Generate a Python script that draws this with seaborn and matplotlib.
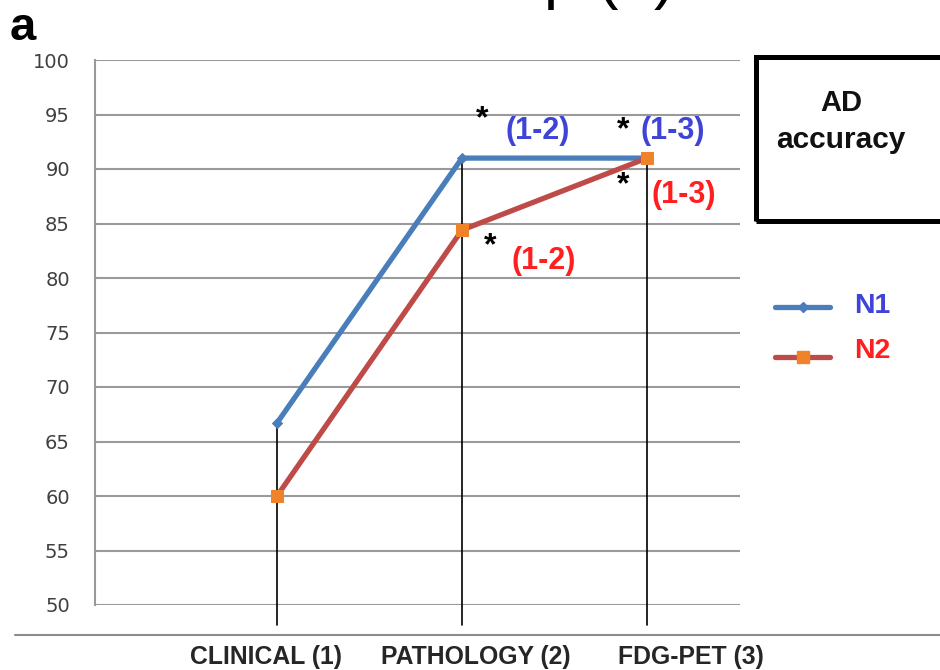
import matplotlib
matplotlib.use("Agg")
import matplotlib.pyplot as plt
import seaborn as sns
import pandas as pd
from matplotlib.lines import Line2D
from matplotlib.patches import Rectangle

categories = ["CLINICAL (1)", "PATHOLOGY (2)", "FDG-PET (3)"]
n1_values = [66.7, 91.0, 91.0]
n2_values = [60.0, 84.4, 91.0]
series_names = ["N1", "N2"]
y_ticks = [50, 55, 60, 65, 70, 75, 80, 85, 90, 95, 100]

sns.set_theme(style="white")
plt.rcParams["font.family"] = ["DejaVu Sans"]

BLUE_LINE = "#4a7ebb"
RED_LINE = "#be4b48"
ORANGE = "#f0822a"
BLUE_TXT = "#3f44d6"
RED_TXT = "#ff1f1f"
GRID = "#9a9a9a"
ARIAL = ["Liberation Sans", "DejaVu Sans"]

df = pd.DataFrame({
    "x": list(range(len(categories))) * 2,
    "value": n1_values + n2_values,
    "series": ["N1"] * len(categories) + ["N2"] * len(categories),
})

fig = plt.figure(figsize=(9.4, 6.7), dpi=100)
ax = fig.add_axes([95 / 940, 1 - 605 / 670, (740 - 95) / 940, (605 - 60) / 670])

# drop lines from max value down below the axis
for i in range(len(categories)):
    top = max(n1_values[i], n2_values[i])
    ax.plot([i, i], [48.2, top], color="black", lw=1.2, clip_on=False, zorder=2)

sns.lineplot(data=df[df.series == "N1"], x="x", y="value", ax=ax, color=BLUE_LINE,
             lw=3.8, marker="D", markersize=5, markerfacecolor=BLUE_LINE,
             markeredgecolor=BLUE_LINE, zorder=4, legend=False)
sns.lineplot(data=df[df.series == "N2"], x="x", y="value", ax=ax, color=RED_LINE,
             lw=3.8, marker="s", markersize=8, markerfacecolor=ORANGE,
             markeredgecolor=ORANGE, zorder=4, legend=False)

ax.set_xlim(-0.984, 2.503)
ax.set_ylim(50, 100)
ax.set_yticks(y_ticks)
ax.set_yticklabels([str(t) for t in y_ticks], fontsize=14, color="#404040")
ax.set_xticks([])
ax.set_xlabel("")
ax.set_ylabel("")
for yv in y_ticks:
    ax.axhline(yv, color=GRID, lw=1.5, zorder=1)
for s in ["top", "right", "bottom"]:
    ax.spines[s].set_visible(False)
ax.spines["left"].set_color(GRID)
ax.spines["left"].set_linewidth(1.5)
ax.tick_params(axis="y", length=0, pad=18)

# category labels (the label row sits slightly offset from the drop lines)
label_centers = [266, 476, 691]
for c, xc in zip(categories, label_centers):
    fig.text(xc / 940, 1 - 657 / 670, c, ha="center", va="center", fontsize=17.8,
             fontweight="bold", family=ARIAL, color="#262626")

# horizontal separator line
fig.add_artist(Line2D([15 / 940, 1.0], [1 - 635 / 670] * 2, color="#8c8c8c", lw=1.5))

# significance annotations
ann = dict(fontsize=22, fontweight="bold", family=ARIAL, ha="center", va="center")
star = dict(fontsize=23, fontweight="bold", family=ARIAL, ha="center", va="center", color="black")
ax.text(1.11, 94.55, "*", **star)
ax.text(1.41, 93.5, "(1-2)", color=BLUE_TXT, **ann)
ax.text(1.87, 93.55, "*", **star)
ax.text(2.14, 93.5, "(1-3)", color=BLUE_TXT, **ann)
ax.text(1.87, 88.55, "*", **star)
ax.text(2.20, 87.6, "(1-3)", color=RED_TXT, **ann)
ax.text(1.15, 82.9, "*", **star)
ax.text(1.44, 81.6, "(1-2)", color=RED_TXT, **ann)

# legend (manual)
lx0, lx1 = 775 / 940, 830 / 940
for name, yy, ty, col, mk, mfc, ms, tcol in [
    ("N1", 1 - 307 / 670, 1 - 306 / 670, BLUE_LINE, "D", BLUE_LINE, 5, BLUE_TXT),
    ("N2", 1 - 357 / 670, 1 - 351 / 670, RED_LINE, "s", ORANGE, 8, RED_TXT),
]:
    fig.add_artist(Line2D([lx0, lx1], [yy, yy], color=col, lw=3.8, solid_capstyle="round"))
    fig.add_artist(Line2D([(lx0 + lx1) / 2], [yy], marker=mk, markersize=ms,
                          markerfacecolor=mfc, markeredgecolor=mfc, lw=0))
    fig.text(854 / 940, ty, name, ha="left", va="center", fontsize=20.5,
             fontweight="bold", color=tcol, family=ARIAL)

# AD accuracy box
fig.add_artist(Rectangle((756 / 940, 1 - 221 / 670), 0.3, (221 - 57) / 670,
                         transform=fig.transFigure, fill=False, lw=3.6, edgecolor="black"))
fig.text(841 / 940, 1 - 103 / 670, "AD", ha="center", va="center", fontsize=21,
         fontweight="bold", color="#111111", family=ARIAL)
fig.text(841 / 940, 1 - 140 / 670, "accuracy", ha="center", va="center", fontsize=21.5,
         fontweight="bold", color="#111111", family=ARIAL)

# panel letter
fig.text(10 / 940, 1 - 28 / 670, "a", ha="left", va="center", fontsize=34,
         fontweight="bold", color="black", family=ARIAL)

# cropped title fragment at the very top (cut off in the reference as well)
fig.text(544 / 940, 1 + 3 / 670, "p (1)", ha="left", va="baseline", fontsize=46,
         color="black", family=ARIAL)

fig.savefig("out.png", dpi=100)
